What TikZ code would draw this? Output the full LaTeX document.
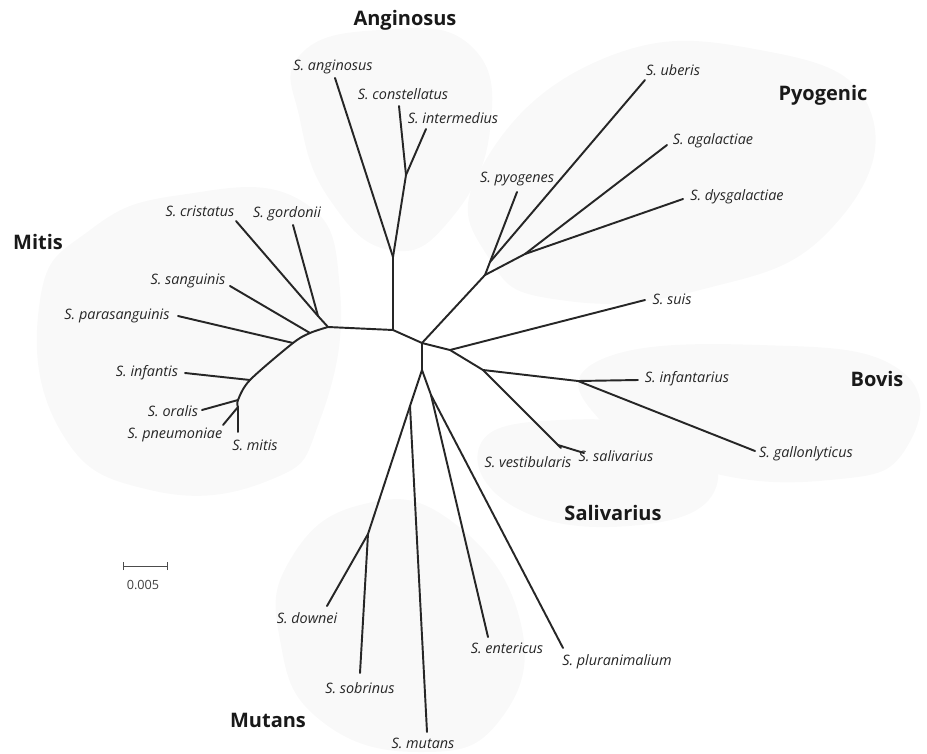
\documentclass[tikz,border=0pt]{standalone}
\usepackage{fontspec}
\setmainfont{Open Sans}
\begin{document}
\begin{tikzpicture}[x=0.75pt,y=-0.75pt,
  br/.style={line width=1.45pt, line join=round, line cap=round, black!85},
  sp/.style={font=\fontsize{10.8}{12}\selectfont\itshape, inner sep=0pt, text=black!85},
  clade/.style={font=\fontsize{15}{17}\selectfont\bfseries, inner sep=0pt, text=black!90},
  blob/.style={fill=black!2.5, draw=none}]
\useasboundingbox (0,0) rectangle (927,753);
% faint clade backgrounds
\fill[blob] plot[smooth cycle,tension=0.8] coordinates {(40,300) (90,230) (180,195) (300,200) (340,290) (320,420) (270,480) (150,490) (60,430)};
\fill[blob] plot[smooth cycle,tension=0.8] coordinates {(300,55) (380,30) (470,45) (490,130) (450,220) (390,250) (330,200) (300,120)};
\fill[blob] plot[smooth cycle,tension=0.8] coordinates {(480,170) (600,60) (760,50) (870,110) (830,230) (700,290) (560,300) (490,260)};
\fill[blob] plot[smooth cycle,tension=0.8] coordinates {(600,360) (760,345) (900,370) (905,450) (830,480) (700,470) (600,420)};
\fill[blob] plot[smooth cycle,tension=0.8] coordinates {(480,445) (560,420) (680,435) (715,490) (640,525) (520,510)};
\fill[blob] plot[smooth cycle,tension=0.8] coordinates {(290,560) (360,505) (450,520) (520,620) (500,720) (420,752) (320,720) (280,640)};

% internal nodes
\coordinate (C) at (422,343);
\coordinate (A0) at (393,330);
\coordinate (A1) at (393,257);
\coordinate (A2) at (406,175);
\coordinate (K1) at (328,327);
\coordinate (CG) at (318,316);
\coordinate (K2) at (310,333);
\coordinate (K3) at (293,343);
\coordinate (K4) at (250,380);
\coordinate (K5) at (238,400);
\coordinate (K6) at (238,407);
\coordinate (P1) at (485,275);
\coordinate (P2) at (490,262);
\coordinate (P3) at (525,254);
\coordinate (B1) at (450,350);
\coordinate (B2) at (483,370);
\coordinate (B3) at (578,381);
\coordinate (V1) at (558,445);
\coordinate (L1) at (422,370);
\coordinate (M1) at (410,406);
\coordinate (M2) at (368,534);
\coordinate (E1) at (431,395);

% leaf ends
\coordinate (anginosus) at (335,78);
\coordinate (constellatus) at (399,106);
\coordinate (intermedius) at (426,129);
\coordinate (cristatus) at (236,221);
\coordinate (gordonii) at (293,225);
\coordinate (sanguinis) at (230,286);
\coordinate (parasanguinis) at (178,316);
\coordinate (infantis) at (185,373);
\coordinate (oralis) at (202,410);
\coordinate (pneumoniae) at (223,425);
\coordinate (mitis) at (238,432);
\coordinate (pyogenes) at (517,192);
\coordinate (uberis) at (645,80);
\coordinate (agalactiae) at (667,145);
\coordinate (dysgalactiae) at (683,199);
\coordinate (suis) at (645,300);
\coordinate (infantarius) at (638,380);
\coordinate (gallolyticus) at (755,451);
\coordinate (vestibularis) at (561,448);
\coordinate (salivarius) at (584,453);
\coordinate (downei) at (327,606);
\coordinate (sobrinus) at (360,673);
\coordinate (mutans) at (427,732);
\coordinate (entericus) at (488,637);
\coordinate (pluranimalium) at (563,648);

% branches
\draw[br] (C) -- (A0) -- (K1);
\draw[br] (A0) -- (A1);
\draw[br] (A1) -- (anginosus);
\draw[br] (A1) -- (A2);
\draw[br] (A2) -- (constellatus);
\draw[br] (A2) -- (intermedius);
\draw[br] plot[smooth,tension=0.5] coordinates {(K1) (K2) (K3) (K4) (K5) (K6)};
\draw[br] (K6) -- (mitis);
\draw[br] (K1) -- (CG);
\draw[br] (CG) -- (cristatus);
\draw[br] (CG) -- (gordonii);
\draw[br] (K2) -- (sanguinis);
\draw[br] (K3) -- (parasanguinis);
\draw[br] (K4) -- (infantis);
\draw[br] (K5) -- (oralis);
\draw[br] (K6) -- (pneumoniae);
\draw[br] (C) -- (P1);
\draw[br] (P1) -- (P2);
\draw[br] (P2) -- (pyogenes);
\draw[br] (P2) -- (uberis);
\draw[br] (P1) -- (P3);
\draw[br] (P3) -- (agalactiae);
\draw[br] (P3) -- (dysgalactiae);
\draw[br] (C) -- (B1);
\draw[br] (B1) -- (suis);
\draw[br] (B1) -- (B2);
\draw[br] (B2) -- (B3);
\draw[br] (B3) -- (infantarius);
\draw[br] (B3) -- (gallolyticus);
\draw[br] (B2) -- (V1);
\draw[br] (V1) -- (vestibularis);
\draw[br] (V1) -- (salivarius);
\draw[br] (C) -- (L1);
\draw[br] (L1) -- (M1);
\draw[br] (M1) -- (M2);
\draw[br] (M2) -- (downei);
\draw[br] (M2) -- (sobrinus);
\draw[br] (M1) -- (mutans);
\draw[br] (L1) -- (E1);
\draw[br] (E1) -- (entericus);
\draw[br] (E1) -- (pluranimalium);

% species labels
\node[sp] (l-anginosus) at (333,67) {S. anginosus};
\node[sp] (l-constellatus) at (403,94) {S. constellatus};
\node[sp] (l-intermedius) at (453,118) {S. intermedius};
\node[sp] (l-cristatus) at (200,211) {S. cristatus};
\node[sp] (l-gordonii) at (287,214) {S. gordonii};
\node[sp] (l-sanguinis) at (188,281) {S. sanguinis};
\node[sp] (l-parasanguinis) at (117,316) {S. parasanguinis};
\node[sp] (l-infantis) at (147,373) {S. infantis};
\node[sp] (l-oralis) at (173,411) {S. oralis};
\node[sp] (l-pneumoniae) at (175,435) {S. pneumoniae};
\node[sp] (l-mitis) at (255,445) {S. mitis};
\node[sp] (l-pyogenes) at (517,179) {S. pyogenes};
\node[sp] (l-uberis) at (673,70) {S. uberis};
\node[sp] (l-agalactiae) at (713,141) {S. agalactiae};
\node[sp] (l-dysgalactiae) at (737,197) {S. dysgalactiae};
\node[sp] (l-suis) at (672,299) {S. suis};
\node[sp] (l-infantarius) at (687,379) {S. infantarius};
\node[sp] (l-gallolyticus) at (806,454) {S. gallonlyticus};
\node[sp] (l-vestibularis) at (528,462) {S. vestibularis};
\node[sp] (l-salivarius) at (616,456) {S. salivarius};
\node[sp] (l-downei) at (307,618) {S. downei};
\node[sp] (l-sobrinus) at (360,688) {S. sobrinus};
\node[sp] (l-mutans) at (423,743) {S. mutans};
\node[sp] (l-entericus) at (507,648) {S. entericus};
\node[sp] (l-pluranimalium) at (617,662) {S. pluranimalium};

% clade labels
\node[clade] (c-anginosus) at (405,20) {Anginosus};
\node[clade] (c-pyogenic) at (823,95) {Pyogenic};
\node[clade] (c-mitis) at (38,242) {Mitis};
\node[clade] (c-bovis) at (877,379) {Bovis};
\node[clade] (c-salivarius) at (613,513) {Salivarius};
\node[clade] (c-mutans) at (268,720) {Mutans};

% scale bar
\coordinate (sb1) at (123,566);
\coordinate (sb2) at (167,566);
\draw[line width=0.6pt, black!70] (sb1) -- (sb2);
\draw[line width=0.6pt, black!70] ([yshift=-3]sb1) -- ([yshift=3]sb1);
\draw[line width=0.6pt, black!70] ([yshift=-3]sb2) -- ([yshift=3]sb2);
\node[font=\fontsize{9.5}{11}\selectfont, inner sep=0pt, text=black!75] (sblabel) at (143,585) {0.005};
\end{tikzpicture}
\end{document}
